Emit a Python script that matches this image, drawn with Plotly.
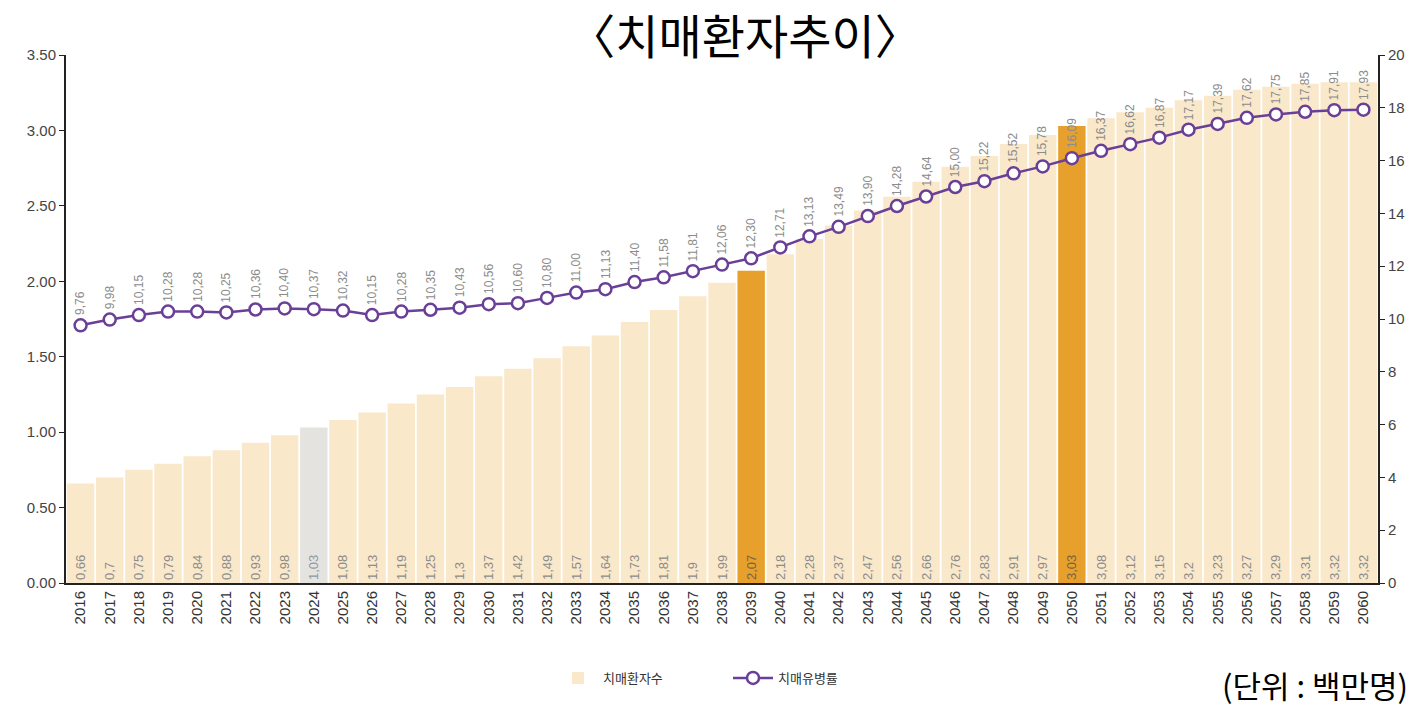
import plotly.graph_objects as go

years = [str(y) for y in range(2016, 2061)]
patients = [0.66, 0.7, 0.75, 0.79, 0.84, 0.88, 0.93, 0.98, 1.03, 1.08, 1.13, 1.19, 1.25, 1.3,
            1.37, 1.42, 1.49, 1.57, 1.64, 1.73, 1.81, 1.9, 1.99, 2.07, 2.18, 2.28, 2.37, 2.47,
            2.56, 2.66, 2.76, 2.83, 2.91, 2.97, 3.03, 3.08, 3.12, 3.15, 3.2, 3.23, 3.27, 3.29,
            3.31, 3.32, 3.32]
prevalence = [9.76, 9.98, 10.15, 10.28, 10.28, 10.25, 10.36, 10.40, 10.37, 10.32, 10.15, 10.28,
              10.35, 10.43, 10.56, 10.60, 10.80, 11.00, 11.13, 11.40, 11.58, 11.81, 12.06, 12.30,
              12.71, 13.13, 13.49, 13.90, 14.28, 14.64, 15.00, 15.22, 15.52, 15.78, 16.09, 16.37,
              16.62, 16.87, 17.17, 17.39, 17.62, 17.75, 17.85, 17.91, 17.93]
patient_labels = [str(v).replace(".", ",") for v in patients]
prevalence_labels = [f"{v:.2f}".replace(".", ",") for v in prevalence]

FONT = "Noto Sans CJK KR"
base_col, gray_col, hi_col = "#FAE8CB", "#E4E3DF", "#E6A02B"
bar_colors = []
text_colors = []
for y in years:
    if y == "2024":
        bar_colors.append(gray_col); text_colors.append("#8E9AA6")
    elif y in ("2039", "2050"):
        bar_colors.append(hi_col); text_colors.append("#7A6240")
    else:
        bar_colors.append(base_col); text_colors.append("#8C8C8C")

fig = go.Figure()
fig.add_trace(go.Bar(
    x=years, y=patients, name="치매환자수", marker=dict(color=bar_colors, line=dict(width=0)),
    text=patient_labels, textposition="inside", insidetextanchor="start", textangle=-90,
    textfont=dict(size=13, color=text_colors, family="Liberation Sans"), cliponaxis=False,
    hoverinfo="x+y"))
fig.add_trace(go.Scatter(
    x=years, y=prevalence, yaxis="y2", name="치매유병률", mode="lines+markers",
    line=dict(color="#6A3F97", width=2.5),
    marker=dict(size=12, color="white", line=dict(color="#6A3F97", width=2.5))))

for i, (v, lab) in enumerate(zip(prevalence, prevalence_labels)):
    fig.add_annotation(x=i, xref="x", y=v, yref="y2", text=lab, textangle=-90, showarrow=False,
                       yanchor="bottom", yshift=8,
                       font=dict(size=12, color="#8C8C8C", family="Liberation Sans"))

plot_l, plot_r, plot_t, plot_b = 66, 1378, 55, 583
pw, ph = plot_r - plot_l, plot_b - plot_t

fig.add_annotation(x=(1410 - plot_l) / pw, y=(plot_b - 684) / ph, xref="paper", yref="paper",
                   xanchor="right", yanchor="middle", text="(단위 : 백만명)", showarrow=False,
                   font=dict(size=31, color="black", family=FONT))

fig.update_layout(
    width=1414, height=707,
    margin=dict(l=plot_l, r=1414 - plot_r, t=plot_t, b=707 - plot_b, autoexpand=False),
    paper_bgcolor="white", plot_bgcolor="white",
    title=dict(text="〈치매환자추이〉", x=745 / 1414, xanchor="center", y=1 - 38 / 707, yanchor="middle",
               font=dict(size=47, color="black", family=FONT)),
    bargap=0.06,
    showlegend=True,
    legend=dict(orientation="h", x=(553 - plot_l) / pw, xanchor="left", y=(plot_b - 678) / ph,
                yanchor="middle", font=dict(size=13, color="#333333", family=FONT),
                itemwidth=40, entrywidth=120, traceorder="normal"),
    xaxis=dict(type="category", range=[-0.5, 44.5], tickangle=-90, showline=True, linecolor="#222",
               linewidth=2, ticks="", tickfont=dict(size=15, color="#333", family="Liberation Sans"),
               showgrid=False, automargin=False),
    yaxis=dict(range=[0, 3.5], dtick=0.5, tickformat=".2f", showline=True, linecolor="#222",
               linewidth=2, ticks="outside", ticklen=5, tickcolor="#222", showgrid=False,
               zeroline=False, automargin=False,
               tickfont=dict(size=15, color="#444", family="Liberation Sans")),
    yaxis2=dict(range=[0, 20], dtick=2, overlaying="y", side="right", showline=True,
                linecolor="#222", linewidth=2, ticks="outside", ticklen=5, tickcolor="#222",
                showgrid=False, zeroline=False, automargin=False,
                tickfont=dict(size=15, color="#444", family="Liberation Sans")),
)

fig.write_html("out.html", config={"displayModeBar": False},
               post_script="document.body.style.margin='0';")
